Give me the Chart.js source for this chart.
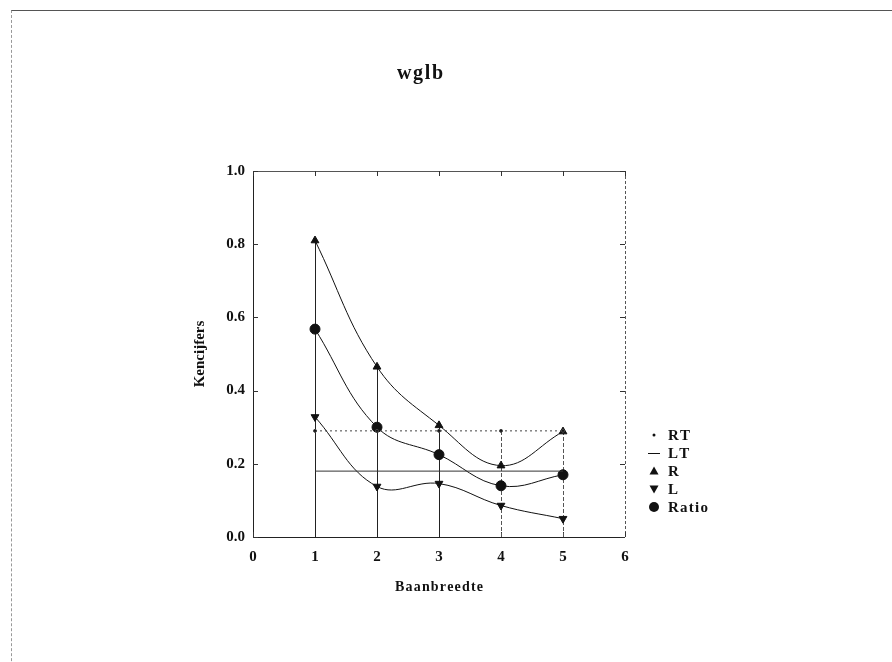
<!DOCTYPE html>
<html><head><meta charset="utf-8">
<script src="https://cdn.jsdelivr.net/npm/chart.js@4/dist/chart.umd.min.js"></script>
<style>
html,body{margin:0;padding:0;background:#fff;}
#wrap{position:relative;width:892px;height:662px;overflow:hidden;background:#fff;}
#frame{position:absolute;left:11px;top:10px;width:900px;height:700px;border-top:1px solid #555;border-left:1px dashed #999;pointer-events:none;}
</style></head><body>
<div id="wrap"><canvas id="c" width="892" height="662"></canvas><div id="frame"></div></div>
<script>
// ---- data ----
const categories = [1, 2, 3, 4, 5];
const xTickValues = [0, 1, 2, 3, 4, 5, 6];
const yTickValues = [0, 0.2, 0.4, 0.6, 0.8, 1.0];
const rtValues = [0.29, 0.29, 0.29, 0.29, 0.29];
const ltValues = [0.18, 0.18, 0.18, 0.18, 0.18];
const rValues = [0.81, 0.465, 0.305, 0.195, 0.288];
const lValues = [0.328, 0.138, 0.146, 0.086, 0.05];
const ratioValues = [0.568, 0.30, 0.225, 0.14, 0.17];
const seriesNames = ['RT', 'LT', 'R', 'L', 'Ratio'];
const chartTitle = 'wglb';

const INK = '#111';
const FONT = 'Liberation Serif, Times New Roman, serif';
const HS = String.fromCharCode(8202);
const spaced = s => s.split('').join(HS);
const pts = arr => categories.map((x, i) => ({x: x, y: arr[i]}));

const frameTicks = {
  id: 'frameTicks',
  beforeDatasetsDraw(chart) {
    const {ctx, chartArea: a, scales: {x, y}} = chart;
    ctx.save();
    ctx.strokeStyle = '#222'; ctx.lineWidth = 1;
    ctx.beginPath();
    ctx.moveTo(a.left + .5, a.top); ctx.lineTo(a.left + .5, a.bottom + .5); ctx.lineTo(a.right, a.bottom + .5);
    ctx.stroke();
    ctx.strokeStyle = '#555';
    ctx.beginPath(); ctx.moveTo(a.left, a.top + .5); ctx.lineTo(a.right + .5, a.top + .5); ctx.stroke();
    ctx.setLineDash([3, 2]);
    ctx.beginPath(); ctx.moveTo(a.right + .5, a.top); ctx.lineTo(a.right + .5, a.bottom); ctx.stroke();
    ctx.setLineDash([]);
    ctx.strokeStyle = '#333';
    const L = 5;
    ctx.beginPath();
    yTickValues.forEach(v => {
      const py = Math.round(y.getPixelForValue(v)) + .5;
      ctx.moveTo(a.left, py); ctx.lineTo(a.left + L, py);
      ctx.moveTo(a.right, py); ctx.lineTo(a.right - L, py);
    });
    xTickValues.forEach(v => {
      const px = Math.round(x.getPixelForValue(v)) + .5;
      ctx.moveTo(px, a.top); ctx.lineTo(px, a.top + L);
      ctx.moveTo(px, a.bottom); ctx.lineTo(px, a.bottom - L);
    });
    ctx.stroke();
    // drop lines from 0 up to the highest value at each category
    categories.forEach((c, i) => {
      const top = Math.max(rtValues[i], ltValues[i], rValues[i], lValues[i], ratioValues[i]);
      const px = Math.round(x.getPixelForValue(c)) + .5;
      ctx.strokeStyle = i >= 3 ? '#555' : '#222';
      ctx.setLineDash(i >= 3 ? [4, 2] : []);
      ctx.beginPath(); ctx.moveTo(px, y.getPixelForValue(0)); ctx.lineTo(px, y.getPixelForValue(top)); ctx.stroke();
    });
    ctx.restore();
  }
};

function marker(ctx, kind, cx, cy) {
  ctx.fillStyle = INK; ctx.strokeStyle = INK; ctx.lineWidth = 1;
  ctx.beginPath();
  if (kind === 'RT') { ctx.arc(cx, cy, 1.5, 0, Math.PI * 2); ctx.fill(); }
  else if (kind === 'LT') { ctx.moveTo(cx - 6, cy + .5); ctx.lineTo(cx + 6, cy + .5); ctx.stroke(); }
  else if (kind === 'R') { ctx.moveTo(cx, cy - 4.5); ctx.lineTo(cx + 4.5, cy + 3.5); ctx.lineTo(cx - 4.5, cy + 3.5); ctx.closePath(); ctx.fill(); }
  else if (kind === 'L') { ctx.moveTo(cx, cy + 4.5); ctx.lineTo(cx + 4.5, cy - 3.5); ctx.lineTo(cx - 4.5, cy - 3.5); ctx.closePath(); ctx.fill(); }
  else { ctx.arc(cx, cy, 5, 0, Math.PI * 2); ctx.fill(); }
}

const sideLegend = {
  id: 'sideLegend',
  afterDraw(chart) {
    const ctx = chart.ctx;
    ctx.save();
    ctx.font = 'bold 20px ' + FONT;
    ctx.textAlign = 'center';
    ctx.textBaseline = 'middle';
    ctx.fillStyle = INK;
    ctx.fillText(spaced(chartTitle), 420, 74);
    ctx.textAlign = 'left';
    ctx.font = 'bold 15px ' + FONT;
    seriesNames.forEach((n, i) => {
      const cy = 435 + i * 18;
      marker(ctx, n, 654, cy);
      ctx.fillStyle = INK;
      ctx.fillText(spaced(n), 668, cy + 1);
    });
    ctx.restore();
  }
};

const common = {borderColor: INK, backgroundColor: INK, borderWidth: 1, tension: 0.4, fill: false};

new Chart(document.getElementById('c'), {
  type: 'line',
  data: {
    datasets: [
      Object.assign({}, common, {label: 'RT', data: pts(rtValues), borderDash: [2, 3], borderColor: '#444', pointRadius: 1.5, tension: 0}),
      Object.assign({}, common, {label: 'LT', data: pts(ltValues), pointRadius: 0, tension: 0, borderColor: '#333'}),
      Object.assign({}, common, {label: 'R', data: pts(rValues), pointStyle: 'triangle', pointRadius: 4.5}),
      Object.assign({}, common, {label: 'L', data: pts(lValues), pointStyle: 'triangle', pointRotation: 180, pointRadius: 4.5}),
      Object.assign({}, common, {label: 'Ratio', data: pts(ratioValues), pointStyle: 'circle', pointRadius: 5})
    ]
  },
  options: {
    responsive: false,
    animation: false,
    layout: {padding: {left: 180, right: 267, top: 171, bottom: 40}},
    plugins: {
      legend: {display: false},
      tooltip: {enabled: false},
      title: {display: false}
    },
    scales: {
      x: {
        type: 'linear', min: 0, max: 6,
        afterBuildTicks: s => { s.ticks = xTickValues.map(v => ({value: v})); },
        afterFit: s => { s.height = 85; },
        grid: {display: false, drawTicks: false}, border: {display: false},
        ticks: {color: INK, padding: 11, font: {family: FONT, size: 15, weight: 'bold'}, callback: v => String(v)},
        title: {display: true, text: spaced('Baanbreedte'), color: INK, font: {family: FONT, size: 14, weight: 'bold'}, padding: {top: 0, bottom: 26}}
      },
      y: {
        min: 0, max: 1,
        afterBuildTicks: s => { s.ticks = yTickValues.map(v => ({value: v})); },
        afterFit: s => { s.width = 73; },
        grid: {display: false, drawTicks: false}, border: {display: false},
        ticks: {color: INK, padding: 8, font: {family: FONT, size: 15, weight: 'bold'}, callback: v => Number(v).toFixed(1)},
        title: {display: true, text: 'Kencijfers', color: INK, font: {family: FONT, size: 15, weight: 'bold'}, padding: {top: 11, bottom: 0}}
      }
    }
  },
  plugins: [frameTicks, sideLegend]
});
</script>
</body></html>
